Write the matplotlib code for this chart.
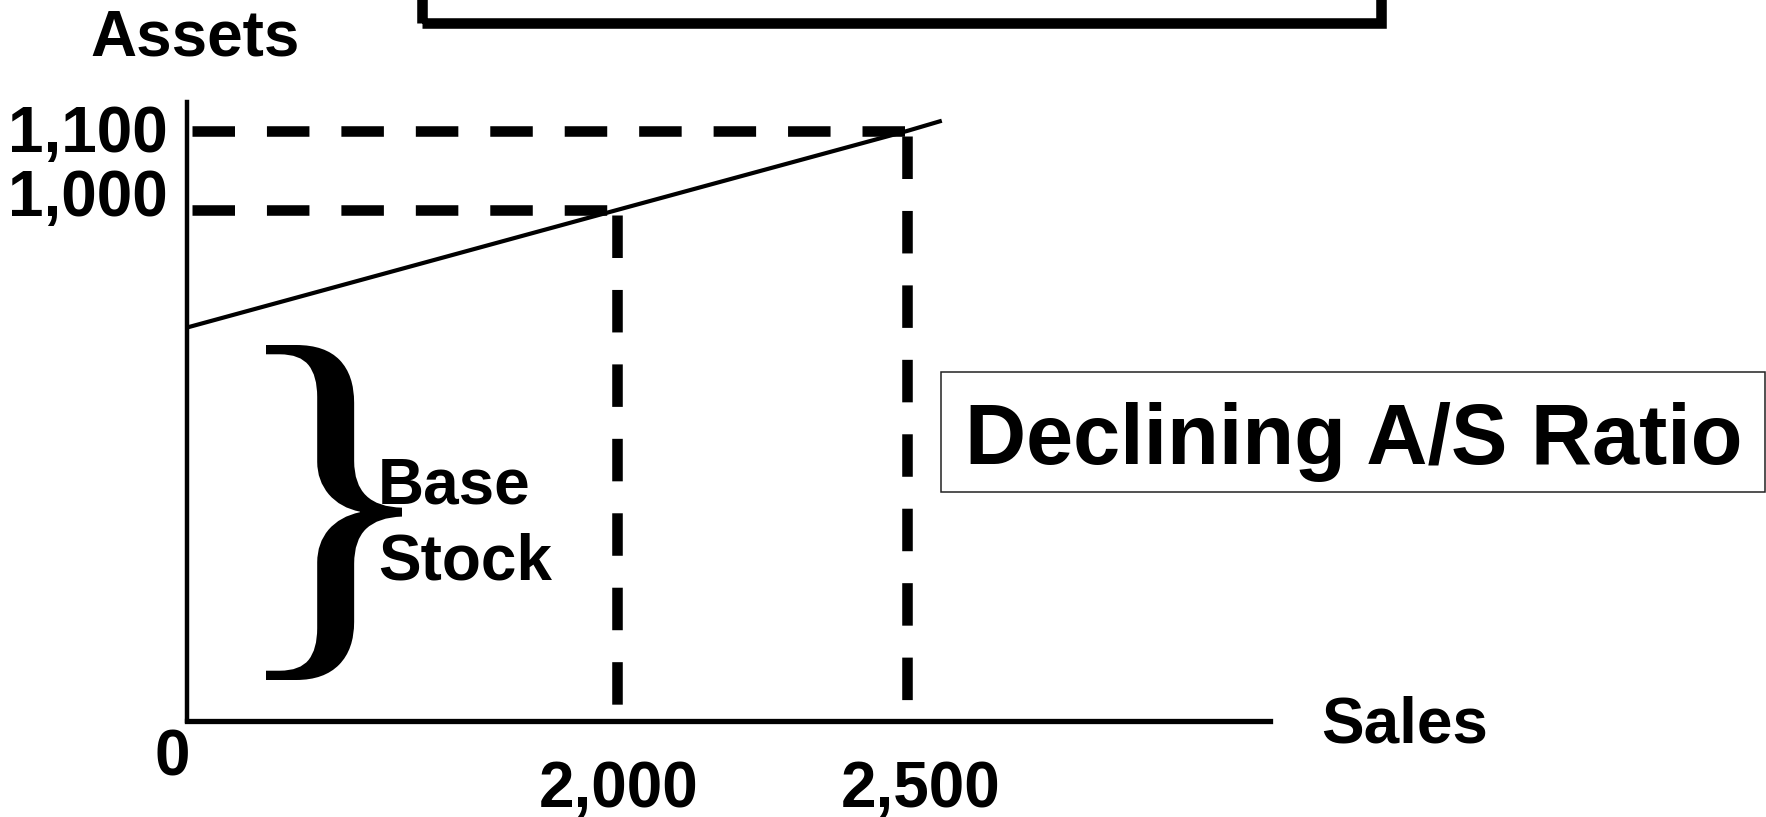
import numpy as np
import matplotlib
matplotlib.use("Agg")
import matplotlib.pyplot as plt
from matplotlib.patches import Rectangle, PathPatch
from matplotlib.textpath import TextPath
from matplotlib.font_manager import FontProperties
from matplotlib.transforms import Affine2D

# ---------------- data ----------------
sales_ticks = [0, 2000, 2500]
sales_labels = ["0", "2,000", "2,500"]
assets_ticks = [1000, 1100]
assets_labels = ["1,000", "1,100"]
line_sales = [0, 2000, 2500, 2560]
line_assets = [770, 1000, 1100, 1113]
x_title = "Sales"
y_title = "Assets"
box_title = "Declining A/S Ratio"
brace_label = ["Base", "Stock"]

# ---------------- layout ----------------
W_PX, H_PX = 1766, 817
# schematic (non-linear) axis scale: data value -> pixel distance from origin
X_BREAK_PX = [0, 430, 720]
Y_BREAK_PX = [0, 511, 590]

plt.rcParams["lines.scale_dashes"] = False
FONT = "Liberation Sans"


def piecewise(xp, fp):
    xp = np.asarray(xp, float)
    fp = np.asarray(fp, float)
    lo = (fp[1] - fp[0]) / (xp[1] - xp[0])
    hi = (fp[-1] - fp[-2]) / (xp[-1] - xp[-2])

    def f(v):
        v = np.asarray(v, float)
        out = np.interp(v, xp, fp)
        out = np.where(v < xp[0], fp[0] + (v - xp[0]) * lo, out)
        out = np.where(v > xp[-1], fp[-1] + (v - xp[-1]) * hi, out)
        return out
    return f


fig = plt.figure(figsize=(W_PX / 100, H_PX / 100), dpi=100)
ax_left, ax_bottom_px, ax_right, ax_top_px = 187, 721, 1270, 102
ax = fig.add_axes([ax_left / W_PX, (H_PX - ax_bottom_px) / H_PX,
                   (ax_right - ax_left) / W_PX, (ax_bottom_px - ax_top_px) / H_PX])

ax.set_xscale("function", functions=(piecewise(sales_ticks, X_BREAK_PX),
                                     piecewise(X_BREAK_PX, sales_ticks)))
ax.set_yscale("function", functions=(piecewise([0] + assets_ticks, Y_BREAK_PX),
                                     piecewise(Y_BREAK_PX, [0] + assets_ticks)))
fx = piecewise(X_BREAK_PX, sales_ticks)
fy = piecewise(Y_BREAK_PX, [0] + assets_ticks)
ax.set_xlim(0, float(fx(ax_right - ax_left)))
ax.set_ylim(0, float(fy(ax_bottom_px - ax_top_px)))

for s in ["top", "right"]:
    ax.spines[s].set_visible(False)
ax.spines["left"].set_linewidth(3.2)
ax.spines["bottom"].set_linewidth(3.8)
ax.set_xticks([])
ax.set_yticks([])
ax.patch.set_alpha(0)

# dashed guide lines
dash = (50, (30.6, 23))
ax.plot([0, sales_ticks[1]], [assets_ticks[0]] * 2, color="black", lw=7.6,
        linestyle=dash, dash_capstyle="butt")
ax.plot([0, sales_ticks[2]], [assets_ticks[1]] * 2, color="black", lw=7.6,
        linestyle=dash, dash_capstyle="butt")
ax.plot([sales_ticks[1]] * 2, [assets_ticks[0], 0], color="black", lw=7.6,
        linestyle=dash, dash_capstyle="butt")
ax.plot([sales_ticks[2]] * 2, [assets_ticks[1], 0], color="black", lw=7.6,
        linestyle=dash, dash_capstyle="butt")

# assets line
ax.plot(line_sales, line_assets, color="black", lw=3.0, solid_capstyle="butt",
        clip_on=False)

fs = 46
tkw = dict(fontsize=fs, fontweight="bold", family=FONT, textcoords="offset points",
           annotation_clip=False)
# x tick labels
x_offsets = [(-10.8, -39.6), (1.4, -62), (10, -62)]
for v, lab, off in zip(sales_ticks, sales_labels, x_offsets):
    ax.annotate(lab, xy=(v, 0), xytext=off, ha="center", va="baseline", **tkw)
# y tick labels
y_offsets = [(-14, -4.3), (-14, -15.1)]
for v, lab, off in zip(assets_ticks, assets_labels, y_offsets):
    ax.annotate(lab, xy=(0, v), xytext=off, ha="right", va="baseline", **tkw)

# axis titles
ax.annotate(x_title, xy=(1, 0), xycoords="axes fraction", xytext=(37, -15.8),
            ha="left", va="baseline", **tkw)
ax.annotate(y_title, xy=(0, 1), xycoords="axes fraction", xytext=(5.8, 33.8),
            ha="center", va="baseline", **tkw)

# brace
tp = TextPath((0, 0), "}", size=100, prop=FontProperties(family="Liberation Serif"))
ext = tp.get_extents()
bx0, bx1, by0, by1 = 266, 402, 345, 680
tr = (Affine2D().translate(-ext.x0, -ext.y0)
      .scale((bx1 - bx0) / W_PX / ext.width, (by1 - by0) / H_PX / ext.height)
      .translate(bx0 / W_PX, (H_PX - by1) / H_PX)) + fig.transFigure
fig.add_artist(PathPatch(tp, transform=tr, facecolor="black", edgecolor="none"))

fig.text(378 / W_PX, (H_PX - 503) / H_PX, brace_label[0], fontsize=fs,
         fontweight="bold", family=FONT, ha="left", va="baseline")
fig.text(378 / W_PX, (H_PX - 580) / H_PX, brace_label[1], fontsize=fs,
         fontweight="bold", family=FONT, ha="left", va="baseline")

# right labelled box
fig.add_artist(Rectangle((941 / W_PX, (H_PX - 492) / H_PX), 824 / W_PX, 120 / H_PX,
                         transform=fig.transFigure, fill=False, edgecolor="#222222",
                         linewidth=1.1))
fig.text(1354 / W_PX, (H_PX - 464) / H_PX, box_title, fontsize=61,
         fontweight="bold", family=FONT, ha="center", va="baseline")

# top (cropped) thick box
fig.add_artist(Rectangle((421.5 / W_PX, (H_PX - 23) / H_PX), 959 / W_PX, 0.3,
                         transform=fig.transFigure, fill=False, edgecolor="black",
                         linewidth=7.6, clip_on=False, joinstyle="miter"))

fig.savefig("out.png", dpi=100)
